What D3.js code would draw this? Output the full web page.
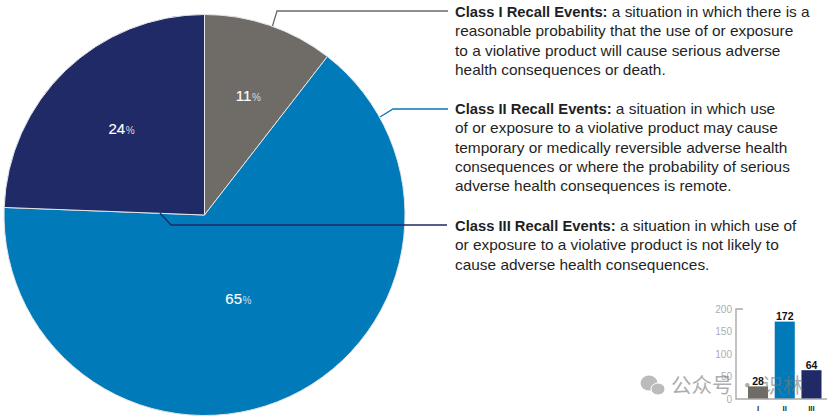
<!DOCTYPE html>
<html><head><meta charset="utf-8">
<script src="https://cdn.jsdelivr.net/npm/d3@7"></script>
<style>html,body{margin:0;padding:0;background:#fff}svg{display:block}text{font-family:"Liberation Sans",Arial,sans-serif}</style>
</head><body><svg id="c" width="832" height="418"></svg>
<script>
const classes = ["I","II","III"];
const counts = [28,172,64];
const percents = [11,65,24];
const sliceShares = [10.5,65.1,24.4];
const colors = ["#6f6b66","#007ab8","#202a66"];
const yTicks = [0,50,100,150,200];
const boldLabels = ["Class I Recall Events:","Class II Recall Events:","Class III Recall Events:"];
const firstLines = [" a situation in which there is a"," a situation in which use"," a situation in which use of"];
const moreLines = [
 ["reasonable probability that the use of or exposure","to a violative product will cause serious adverse","health consequences or death."],
 ["of or exposure to a violative product may cause","temporary or medically reversible adverse health","consequences or where the probability of serious","adverse health consequences is remote."],
 ["or exposure to a violative product is not likely to","cause adverse health consequences."]
];
const textTops = [17,114,231];
const leaders = [
 [[272.5,26],[277,11],[448,11]],
 [[380,117],[393,109],[448,109]],
 [[160,213],[171,225],[447,225]]
];
const labelRadii = [126,92,121];
const labelNudges = [[3,0],[-5,1],[1,1]];

const svg = d3.select("#c");
const pie = d3.pie().sort(null).value(d=>d)(sliceShares);
const R = 200.5;
const arc = d3.arc().innerRadius(0).outerRadius(R);
const g = svg.append("g").attr("transform","translate(204.5,215)");
g.selectAll("path").data(pie).join("path").attr("d",arc)
 .attr("fill",(d,i)=>colors[i]).attr("stroke","#e4e6ea").attr("stroke-width",1);

g.selectAll("text.p").data(pie).join("text").attr("class","p")
 .attr("text-anchor","middle").attr("fill","#fff")
 .attr("transform",(d,i)=>{
   const c=d3.arc().innerRadius(labelRadii[i]).outerRadius(labelRadii[i]).centroid(d);
   return `translate(${c[0]+labelNudges[i][0]},${c[1]+5+labelNudges[i][1]})`;})
 .each(function(d,i){
   const t=d3.select(this);
   t.append("tspan").attr("font-size",15).attr("stroke","#fff").attr("stroke-width",0.15).text(percents[i]);
   t.append("tspan").attr("font-size",10).attr("dx",0.5).attr("fill","#d5dbe6").text("%");
 });

const line = d3.line();
svg.selectAll("path.l").data(leaders).join("path").attr("class","l").attr("d",line)
 .attr("fill","none").attr("stroke",(d,i)=>colors[i]).attr("stroke-width",1.3);

const lh = 19.3, fs = 15.42, fsBold = 14.75;
boldLabels.forEach((b,i)=>{
  const t = svg.append("text").attr("x",455).attr("y",textTops[i]).attr("font-size",fs).attr("fill","#1f1f1f").attr("xml:space","preserve");
  t.append("tspan").attr("font-weight","bold").attr("font-size",fsBold).text(b);
  t.append("tspan").text(firstLines[i]);
  moreLines[i].forEach((s,j)=>svg.append("text").attr("x",455).attr("y",textTops[i]+lh*(j+1)).attr("font-size",fs).attr("fill","#1f1f1f").text(s));
});

const x = d3.scaleBand().domain(classes).range([748,821.5]).paddingInner(0.25).paddingOuter(0);
const y = d3.scaleLinear().domain([0,200]).range([399,309]);
const ins = svg.append("g");
ins.selectAll("rect").data(counts).join("rect")
 .attr("x",(d,i)=>x(classes[i])).attr("width",x.bandwidth())
 .attr("y",d=>y(d)).attr("height",d=>y(0)-y(d)).attr("fill",(d,i)=>colors[i]);
ins.append("path").attr("d",`M743,${y(200)}H736V${y(0)}H827`).attr("fill","none").attr("stroke","#a9a9a9").attr("stroke-width",1.4);
ins.selectAll("text.y").data(yTicks).join("text").attr("class","y")
 .attr("x",732).attr("y",d=>y(d)+3.5).attr("text-anchor","end").attr("font-size",10).attr("fill","#a8adb5").text(d=>d);
ins.selectAll("text.v").data(counts).join("text").attr("class","v")
 .attr("x",(d,i)=>x(classes[i])+x.bandwidth()/2).attr("y",d=>y(d)-1.5).attr("text-anchor","middle")
 .attr("font-size",10.5).attr("font-weight","bold").attr("fill","#111").text(d=>d);
ins.selectAll("text.c").data(classes).join("text").attr("class","c")
 .attr("x",d=>x(d)+x.bandwidth()/2).attr("y",411).attr("text-anchor","middle")
 .attr("font-size",8).attr("font-weight","bold").attr("fill","#333").text(d=>d);

// watermark
const wm = svg.append("g").attr("opacity",0.6);
wm.append("ellipse").attr("cx",649).attr("cy",383).attr("rx",8.5).attr("ry",7.5).attr("fill","#8f8f8f");
wm.append("ellipse").attr("cx",658).attr("cy",389).attr("rx",7).attr("ry",6).attr("fill","#8f8f8f").attr("stroke","#fff").attr("stroke-width",1);
wm.append("text").attr("x",671).attr("y",393).attr("font-size",20.5).attr("fill","#777")
 .style("font-family",'"Noto Sans CJK SC"').text("公众号 · 识林");
</script></body></html>
